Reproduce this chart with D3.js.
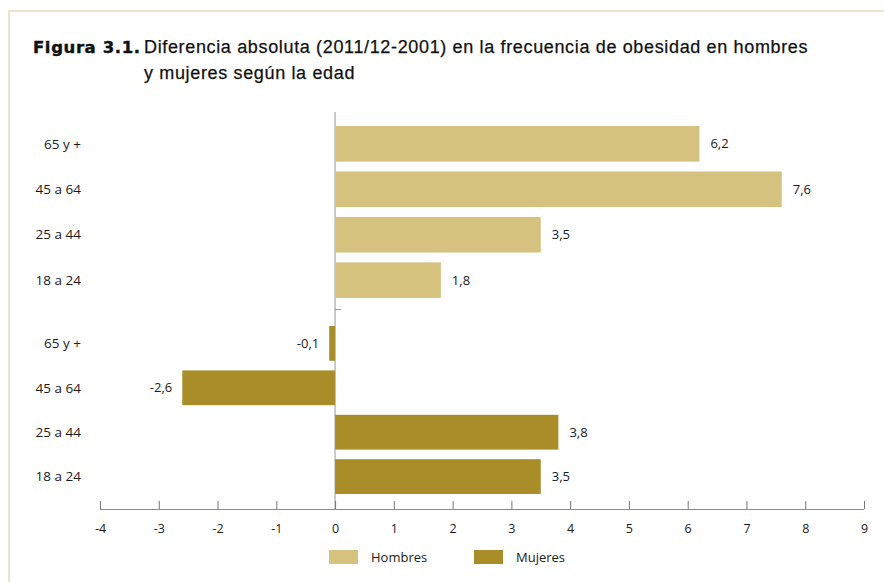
<!DOCTYPE html>
<html lang="es">
<head>
<meta charset="utf-8">
<title>Figura 3.1</title>
<script src="https://cdn.jsdelivr.net/npm/d3@7"></script>
<style>
  html, body { margin: 0; padding: 0; background: #fff; }
  svg { display: block; }
  .title { font-family: "Liberation Sans", Arial, sans-serif; font-size: 18px; letter-spacing: 0.65px; fill: #111; stroke: #111; stroke-width: 0.25px; }
  .lbl { font-family: "Open Sans", "Noto Sans", sans-serif; font-size: 13px; fill: #1a1a1a; }
</style>
</head>
<body>
<svg id="chart" width="884" height="582"></svg>
<script>
// Age groups, top to bottom within each block
const ageGroups = ["65 y +", "45 a 64", "25 a 44", "18 a 24"];
// Absolute change in obesity prevalence, 2011/12 vs 2001 (percentage points)
const hombres = [6.2, 7.6, 3.5, 1.8];
const mujeres = [-0.1, -2.6, 3.8, 3.5];
// Horizontal axis ticks
const xTicks = [-4, -3, -2, -1, 0, 1, 2, 3, 4, 5, 6, 7, 8, 9];
const seriesNames = ["Hombres", "Mujeres"];
const seriesColors = ["#d6c27f", "#a98d29"];

const svg = d3.select("#chart");
// Spanish number style: decimal comma, plain hyphen for negatives
const esLocale = d3.formatLocale({ decimal: ",", thousands: ".", grouping: [3], currency: ["", " €"], minus: "-" });
const fmt = esLocale.format(".1f");
const fmtInt = esLocale.format("d");

// Frame
svg.append("path")
  .attr("d", "M9,582 L9,11 L884,11")
  .attr("fill", "none")
  .attr("stroke", "#ece4cc")
  .attr("stroke-width", 2);

// Title
const title = svg.append("text").attr("class", "title").attr("x", 33).attr("y", 53);
title.append("tspan")
  .attr("font-weight", "bold")
  .style("font-family", '"DejaVu Sans", sans-serif')
  .style("font-size", "16.5px")
  .style("letter-spacing", "0.6px")
  .style("stroke-width", "0.4px")
  .text("Figura 3.1.");
title.append("tspan").attr("x", 144).text("Diferencia absoluta (2011/12-2001) en la frecuencia de obesidad en hombres");
svg.append("text").attr("class", "title").attr("x", 144).attr("y", 79)
  .text("y mujeres según la edad");

// Scales
const x = d3.scaleLinear().domain([-4, 9]).range([100, 864]);
const yMen = d3.scaleBand().domain(ageGroups).range([126, 298]).paddingInner(0.216).paddingOuter(0);
const yWomen = d3.scaleBand().domain(ageGroups).range([326, 494]).paddingInner(0.216).paddingOuter(0);

const axisY = 509;

// Zero line
svg.append("line")
  .attr("x1", x(0)).attr("x2", x(0))
  .attr("y1", 112).attr("y2", axisY)
  .attr("stroke", "#999").attr("stroke-width", 1);
// Separator tick between blocks
svg.append("line")
  .attr("x1", x(0)).attr("x2", x(0) + 6)
  .attr("y1", 309.5).attr("y2", 309.5)
  .attr("stroke", "#999").attr("stroke-width", 1);

// Bottom axis
const xAxis = d3.axisBottom(x).tickValues(xTicks).tickSize(0).tickFormat(fmtInt);
const gx = svg.append("g").attr("transform", `translate(0,${axisY})`).call(xAxis);
gx.select(".domain").attr("stroke", "#888").attr("d", `M${x(-4)},0.5H${x(9)}`);
gx.selectAll(".tick").append("line")
  .attr("y1", 0).attr("y2", -8)
  .attr("stroke", "#777").attr("stroke-width", 1);
gx.selectAll(".tick text")
  .attr("class", "lbl")
  .attr("y", 24)
  .attr("dy", "0")
  .style("font-family", '"Open Sans", "Noto Sans", sans-serif')
  .style("font-size", "12.5px")
  .attr("fill", "#222");

// Category labels and bars for each block
const blocks = [
  { name: seriesNames[0], values: hombres, y: yMen, color: seriesColors[0] },
  { name: seriesNames[1], values: mujeres, y: yWomen, color: seriesColors[1] }
];

blocks.forEach(b => {
  const rows = ageGroups.map((g, i) => ({ g, v: b.values[i] }));
  const g = svg.append("g");

  g.selectAll("text.cat").data(rows).join("text")
    .attr("class", "lbl cat")
    .attr("x", 81)
    .attr("y", d => b.y(d.g) + b.y.bandwidth() / 2)
    .attr("dy", "0.35em")
    .attr("text-anchor", "end")
    .style("font-size", "13.5px")
    .text(d => d.g);

  g.selectAll("rect").data(rows).join("rect")
    .attr("x", d => x(Math.min(0, d.v)))
    .attr("width", d => Math.abs(x(d.v) - x(0)))
    .attr("y", d => b.y(d.g))
    .attr("height", b.y.bandwidth())
    .attr("fill", b.color);

  g.selectAll("text.val").data(rows).join("text")
    .attr("class", "lbl val")
    .attr("x", d => d.v >= 0 ? x(d.v) + 11 : x(d.v) - 10)
    .attr("y", d => b.y(d.g) + b.y.bandwidth() / 2)
    .attr("dy", "0.35em")
    .attr("text-anchor", d => d.v >= 0 ? "start" : "end")
    .text(d => fmt(d.v));
});

// Legend
const legend = svg.append("g");
const legendX = [329, 474];
seriesNames.forEach((name, i) => {
  legend.append("rect")
    .attr("x", legendX[i]).attr("y", 550)
    .attr("width", 29).attr("height", 14)
    .attr("fill", seriesColors[i]);
  legend.append("text")
    .attr("class", "lbl")
    .attr("x", legendX[i] + 42).attr("y", 557)
    .attr("dy", "0.35em")
    .style("font-size", "13px")
    .text(name);
});
</script>
</body>
</html>
